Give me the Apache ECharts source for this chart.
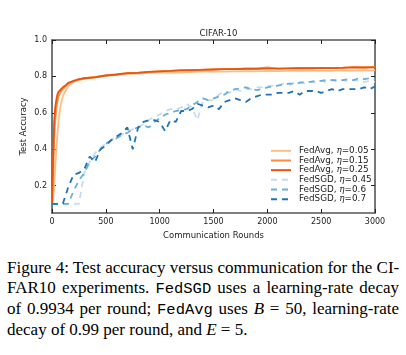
<!DOCTYPE html>
<html><head><meta charset="utf-8">
<script src="https://cdn.jsdelivr.net/npm/echarts@6/dist/echarts.min.js"></script>
<style>
html,body{margin:0;padding:0;background:#fff;}
#chart{position:absolute;left:0;top:0;width:406px;height:250px;}
#cap{position:absolute;left:7px;top:258px;width:392px;font-family:'Liberation Serif','Times New Roman',serif;font-size:17px;line-height:20px;color:#000;}
#cap div{text-align:justify;text-align-last:justify;white-space:nowrap;}
#cap div.last{text-align:left;text-align-last:left;}
#cap .m{font-family:'Liberation Mono','Courier New',monospace;font-size:15.5px;}
</style>
</head><body>
<div id="chart"></div>
<div id="cap">
<div>Figure 4: Test accuracy versus communication for the CI-</div>
<div>FAR10 experiments. <span class="m">FedSGD</span> uses a learning-rate decay</div>
<div>of 0.9934 per round; <span class="m">FedAvg</span> uses <i>B</i> = 50, learning-rate</div>
<div class="last">decay of 0.99 per round, and <i>E</i> = 5.</div>
</div>
<script>
// ---- data ----
const seriesNames = ['FedAvg, η=0.05','FedAvg, η=0.15','FedAvg, η=0.25','FedSGD, η=0.45','FedSGD, η=0.6','FedSGD, η=0.7'];
const yTicks = [0.2,0.4,0.6,0.8,1.0];
const avgRounds = [0,10,20,30,40,50,60,70,80,100,125,150,175,200,250,300,400,500,600,700,800,900,1000,1100,1200,1300,1400,1500,1600,1700,1800,1900,2000,2100,2200,2300,2400,2500,2600,2700,2800,2900,3000];
const avg005 = [0.10,0.12,0.20,0.30,0.40,0.48,0.55,0.60,0.64,0.69,0.72,0.745,0.76,0.77,0.78,0.787,0.795,0.803,0.808,0.813,0.816,0.819,0.821,0.822,0.821,0.825,0.826,0.827,0.826,0.828,0.829,0.828,0.830,0.829,0.830,0.831,0.830,0.832,0.831,0.833,0.832,0.833,0.833];
const avg015 = [0.10,0.25,0.45,0.56,0.62,0.66,0.69,0.70,0.715,0.73,0.745,0.76,0.768,0.773,0.783,0.79,0.797,0.806,0.812,0.818,0.821,0.825,0.828,0.831,0.835,0.834,0.837,0.839,0.840,0.841,0.842,0.843,0.850,0.843,0.844,0.846,0.845,0.847,0.846,0.848,0.851,0.849,0.852];
const avg025 = [0.10,0.35,0.55,0.63,0.67,0.70,0.715,0.72,0.728,0.74,0.75,0.765,0.77,0.775,0.785,0.79,0.795,0.805,0.81,0.818,0.82,0.825,0.828,0.83,0.833,0.835,0.836,0.838,0.84,0.84,0.842,0.842,0.843,0.843,0.844,0.845,0.845,0.846,0.846,0.847,0.850,0.849,0.850];
const sgdRounds = [0,50,100,150,200,250,300,350,400,450,500,550,600,650,700,750,800,850,900,950,1000,1050,1100,1150,1200,1250,1300,1350,1400,1450,1500,1550,1600,1650,1700,1750,1800,1850,1900,1950,2000,2050,2100,2150,2200,2250,2300,2350,2400,2450,2500,2550,2600,2650,2700,2750,2800,2850,2900,2950,3000];
const sgd045 = [0.10,0.10,0.10,0.10,0.10,0.10,0.27,0.33,0.38,0.41,0.43,0.45,0.47,0.48,0.50,0.51,0.52,0.54,0.56,0.58,0.59,0.61,0.62,0.62,0.63,0.65,0.63,0.56,0.66,0.67,0.67,0.70,0.72,0.71,0.73,0.72,0.73,0.73,0.74,0.74,0.745,0.75,0.75,0.76,0.75,0.765,0.77,0.76,0.77,0.765,0.775,0.77,0.78,0.77,0.78,0.775,0.78,0.775,0.77,0.775,0.77];
const sgd06 = [0.10,0.10,0.10,0.10,0.17,0.23,0.27,0.33,0.36,0.40,0.43,0.45,0.46,0.48,0.49,0.51,0.52,0.53,0.52,0.55,0.57,0.59,0.60,0.61,0.615,0.62,0.64,0.66,0.68,0.67,0.68,0.69,0.70,0.72,0.73,0.735,0.74,0.73,0.725,0.73,0.74,0.745,0.75,0.755,0.76,0.76,0.765,0.77,0.77,0.775,0.775,0.78,0.78,0.78,0.78,0.785,0.78,0.79,0.785,0.79,0.785];
const sgd07 = [0.10,0.10,0.10,0.19,0.26,0.27,0.29,0.36,0.33,0.40,0.42,0.45,0.47,0.49,0.52,0.40,0.52,0.55,0.56,0.56,0.55,0.50,0.56,0.55,0.61,0.61,0.62,0.65,0.64,0.63,0.64,0.62,0.66,0.67,0.68,0.67,0.66,0.68,0.69,0.70,0.70,0.70,0.71,0.71,0.71,0.72,0.70,0.72,0.72,0.72,0.71,0.72,0.73,0.72,0.73,0.73,0.73,0.73,0.74,0.73,0.745];

// ---- build ----
const pairs = (xs, ys) => xs.map((x, i) => [x, ys[i]]);
const colors = ['#fdbe85','#fd8d3c','#e6550d','#c6dbef','#6baed6','#2171b5'];
const datasets = [pairs(avgRounds,avg005),pairs(avgRounds,avg015),pairs(avgRounds,avg025),pairs(sgdRounds,sgd045),pairs(sgdRounds,sgd06),pairs(sgdRounds,sgd07)];
const font = "'DejaVu Sans', sans-serif";
const frame = '#555';
const chart = echarts.init(document.getElementById('chart'), null, {renderer:'canvas'});
const tickStyle = {color:'#222',width:1};
const baseAxis = {
  axisLine:{show:true,onZero:false,lineStyle:{color:frame,width:1.6}},
  axisTick:{show:true,inside:true,length:4,lineStyle:tickStyle},
  splitLine:{show:false},
};
chart.setOption({
  animation:false,
  backgroundColor:'#fff',
  title:{text:'CIFAR-10',left:213.5,top:24,textAlign:'center',textStyle:{fontFamily:font,fontSize:8.5,fontWeight:'normal',color:'#222'}},
  grid:{left:52,top:40,width:323,height:173},
  xAxis:[
    Object.assign({},baseAxis,{type:'value',min:0,max:3000,interval:500,position:'bottom',
      name:'Communication Rounds',nameLocation:'middle',nameGap:18,nameMoveOverlap:false,nameTextStyle:{fontFamily:font,fontSize:8.5,color:'#222'},
      axisLabel:{margin:5,formatter:v=>String(v),fontFamily:font,fontSize:8,color:'#222'}}),
    Object.assign({},baseAxis,{type:'value',min:0,max:3000,interval:500,position:'top',axisLabel:{show:false}})
  ],
  yAxis:[
    Object.assign({},baseAxis,{type:'value',min:0.05,max:1.0,position:'left',
      name:'Test Accuracy',nameLocation:'middle',nameGap:24,nameMoveOverlap:false,nameTextStyle:{fontFamily:font,fontSize:8.5,color:'#222'},
      axisTick:{show:true,inside:true,length:4,customValues:yTicks,lineStyle:tickStyle},
      axisLabel:{margin:5,customValues:yTicks,formatter:v=>v.toFixed(1),fontFamily:font,fontSize:8,color:'#222'}}),
    Object.assign({},baseAxis,{type:'value',min:0.05,max:1.0,position:'right',
      axisTick:{show:true,inside:true,length:4,customValues:yTicks,lineStyle:tickStyle},
      axisLabel:{show:false}})
  ],
  legend:{
    orient:'vertical',left:270,top:146,padding:0,itemWidth:20,itemHeight:9.67,itemGap:0,
    itemStyle:{opacity:0},
    data:seriesNames,
    formatter:n=>n.replace('η','{i|η}'),
    textStyle:{fontFamily:font,fontSize:8.8,lineHeight:9.67,color:'#222',padding:[0,0,0,3],
      rich:{i:{fontFamily:"'DejaVu Serif', serif",fontStyle:'italic',fontSize:8.8,lineHeight:9.67,color:'#222'}}}
  },
  series:seriesNames.map((n,i)=>({
    name:n,type:'line',data:datasets[i],xAxisIndex:0,yAxisIndex:0,
    symbol:'none',showSymbol:false,smooth:false,
    color:colors[i],
    lineStyle:{color:colors[i],width:1.8,type:i<3?'solid':[6,5]},
    z:2+i
  }))
});
</script>
</body></html>
